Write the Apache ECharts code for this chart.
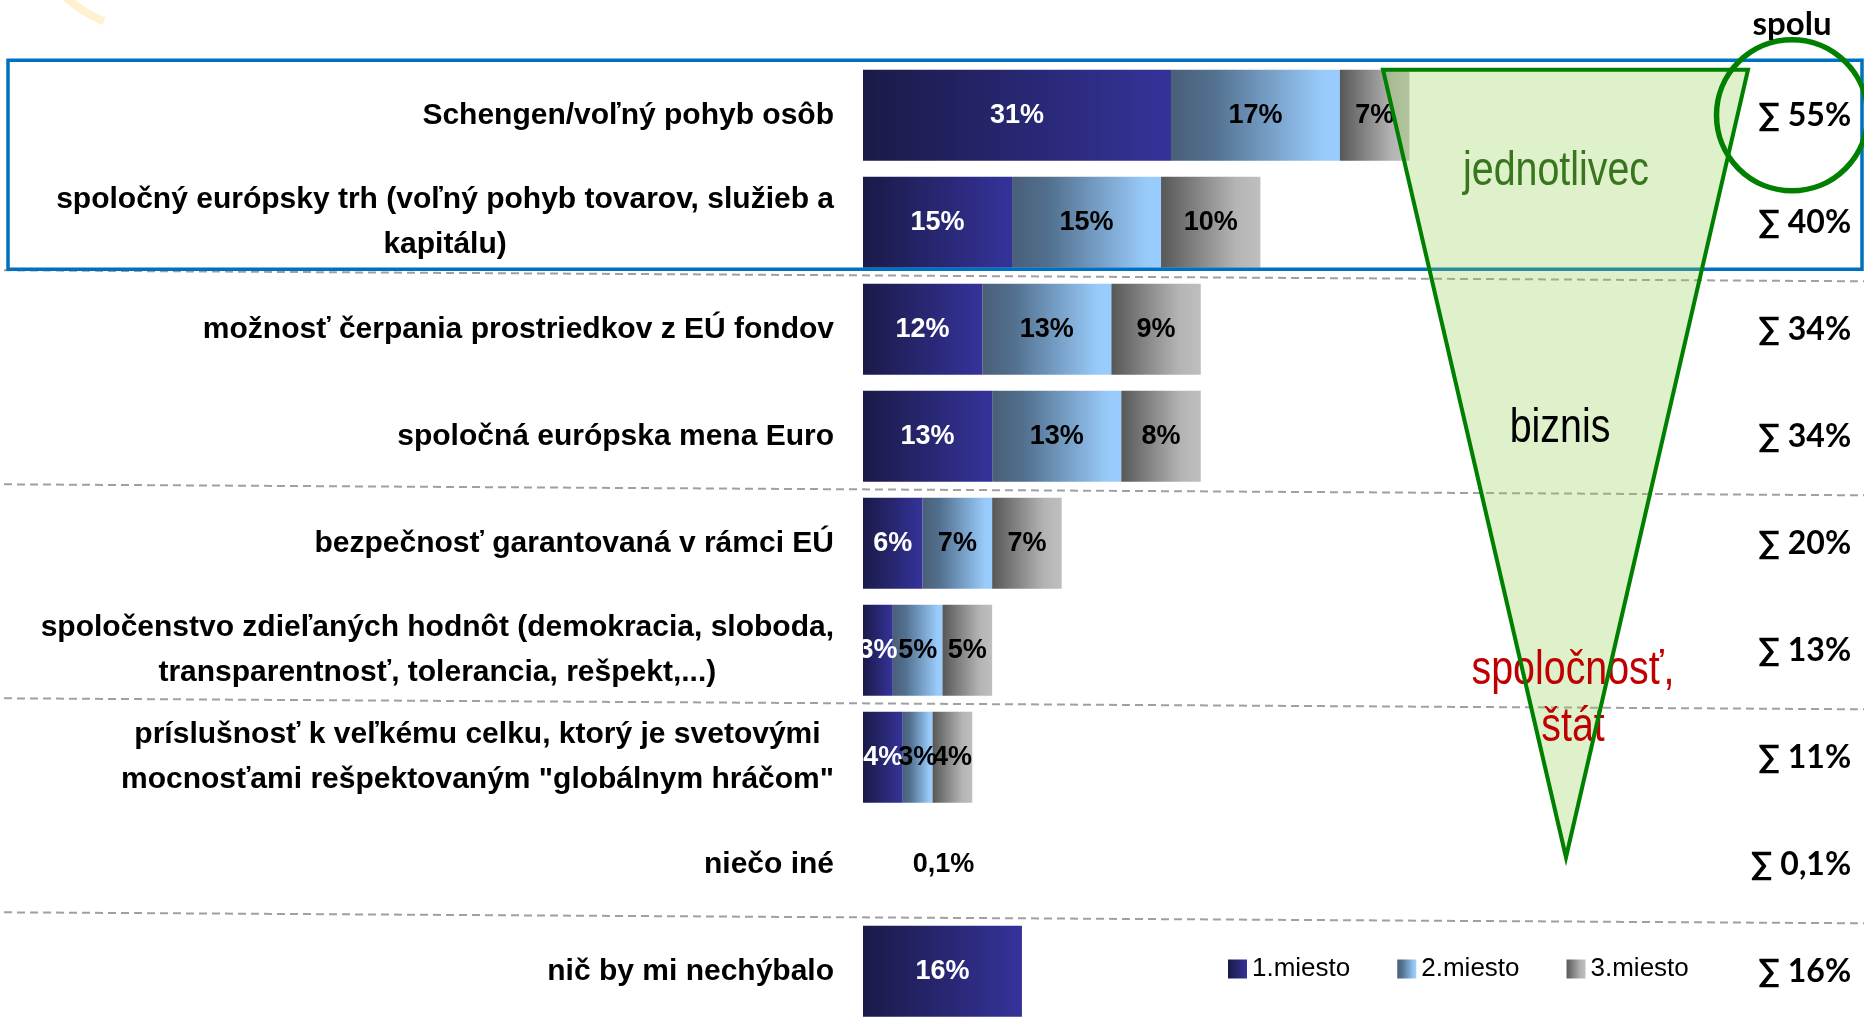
<!DOCTYPE html>
<html><head><meta charset="utf-8">
<script src="https://cdn.jsdelivr.net/npm/echarts@6/dist/echarts.min.js"></script>
<style>html,body{margin:0;padding:0;background:#fff;overflow:hidden}#c{width:1864px;height:1019px}</style>
</head><body><div id="c"></div>
<script>
const categories = [
  'Schengen/voľný pohyb osôb',
  'spoločný európsky trh (voľný pohyb tovarov, služieb a\nkapitálu)',
  'možnosť čerpania prostriedkov z EÚ fondov',
  'spoločná európska mena Euro',
  'bezpečnosť garantovaná v rámci EÚ',
  'spoločenstvo zdieľaných hodnôt (demokracia, sloboda,\ntransparentnosť, tolerancia, rešpekt,...)',
  'príslušnosť k veľkému celku, ktorý je svetovými\nmocnosťami rešpektovaným "globálnym hráčom"',
  'niečo iné',
  'nič by mi nechýbalo'
];
const seriesNames = ['1.miesto', '2.miesto', '3.miesto'];
const place1 = [31, 15, 12, 13, 6, 3, 4, 0.1, 16];
const place2 = [17, 15, 13, 13, 7, 5, 3, null, null];
const place3 = [7, 10, 9, 8, 7, 5, 4, null, null];
const sumTitle = 'spolu';
const zoneLabels = ['jednotlivec', 'biznis', 'spoločnosť,\nštát'];

const SANS = '"Liberation Sans Narrow","Liberation Sans",Arial,sans-serif';
const CAL = 'Lato,"Open Sans",sans-serif';
const fmt = v => String(v).replace('.', ',') + '%';
const sums = place1.map((v, i) => Math.round(((v || 0) + (place2[i] || 0) + (place3[i] || 0)) * 10) / 10);

const LG = echarts.graphic.LinearGradient;
const grads = [
  new LG(0, 0, 1, 0, [{offset: 0, color: '#1a1a48'}, {offset: 1, color: '#35339a'}]),
  new LG(0, 0, 1, 0, [{offset: 0, color: '#4a5f78'}, {offset: 0.25, color: '#52708f'}, {offset: 0.9, color: '#99cbfa'}, {offset: 1, color: '#99ccff'}]),
  new LG(0, 0, 1, 0, [{offset: 0, color: '#575757'}, {offset: 0.75, color: '#b4b4b4'}, {offset: 1, color: '#bfbfbf'}])
];
const labelColors = ['#ffffff', '#000000', '#000000'];

function makeSeries(idx, arr) {
  return {
    name: seriesNames[idx],
    type: 'bar',
    stack: 'total',
    barWidth: 91,
    itemStyle: {color: grads[idx]},
    label: {
      show: true, position: 'inside',
      color: labelColors[idx], fontFamily: SANS, fontWeight: 'bold', fontSize: 27,
      formatter: p => fmt(p.value)
    },
    emphasis: {disabled: true},
    data: arr.map(v => (v !== null && v < 1)
      ? {value: v, itemStyle: {color: 'rgba(0,0,0,0)'}, label: {color: '#000', offset: [80, 0]}}
      : v)
  };
}

const chart = echarts.init(document.getElementById('c'), null, {renderer: 'canvas'});
const option = {
  animation: false,
  backgroundColor: '#ffffff',
  grid: {left: 863, top: 61.8, width: 894.15, height: 963, containLabel: false, outerBoundsMode: 'none'},
  xAxis: {type: 'value', min: 0, max: 90, show: false},
  yAxis: [
    {
      type: 'category', data: categories, inverse: true,
      axisLine: {show: false}, axisTick: {show: false}, splitLine: {show: false},
      axisLabel: {
        margin: 29, align: 'right', hideOverlap: false,
        formatter: v => v.split('\n').map(l => '{c|' + l + '}').join('\n'),
        rich: {c: {align: 'center', fontFamily: SANS, fontWeight: 'bold', fontSize: 30, lineHeight: 45, color: '#000'}}
      }
    },
    {
      type: 'category', data: categories, inverse: true, position: 'right',
      axisLine: {show: false}, axisTick: {show: false}, splitLine: {show: false},
      axisLabel: {
        margin: 94, align: 'right', hideOverlap: false,
        fontFamily: CAL, fontWeight: 'bold', fontSize: 32, color: '#000',
        formatter: (v, i) => '∑ ' + fmt(sums[i])
      }
    }
  ],
  legend: {
    data: seriesNames, left: 1228, top: 956, padding: 0, itemGap: 47,
    icon: 'rect', itemWidth: 19, itemHeight: 19,
    itemStyle: {borderWidth: 0},
    textStyle: {fontFamily: SANS, fontSize: 26, color: '#000'},
    selectedMode: false
  },
  series: [makeSeries(0, place1), makeSeries(1, place2), makeSeries(2, place3)]
};
chart.setOption(option);

// decorations anchored on the category axis
const yc = i => chart.convertToPixel({yAxisIndex: 0}, i);
const graphics = [];
[[1, 2], [3, 4], [5, 6], [7, 8]].forEach(([a, b]) => {
  const yb = (yc(a) + yc(b)) / 2;
  graphics.push({type: 'line', z: 1, silent: true,
    shape: {x1: 4, y1: yb - 5.5, x2: 1864, y2: yb + 5.5},
    style: {stroke: '#a0a0a0', lineWidth: 2, lineDash: [8, 5]}});
});
const boxTop = yc(0) - 55, boxBot = yc(1) + 47;
graphics.push({type: 'rect', z: 5, silent: true,
  shape: {x: 8, y: boxTop, width: 1854, height: boxBot - boxTop},
  style: {fill: null, stroke: '#0070c0', lineWidth: 3.5}});
const triPts = [[1383, yc(0) - 45.5], [1748, yc(0) - 45.5], [1566, yc(7) - 7]];
graphics.push({type: 'polygon', z: 20, silent: true, shape: {points: triPts},
  style: {fill: 'rgba(146,208,80,0.3)', stroke: null}});
const zoneText = (txt, x, y, color) => ({type: 'text', z: 21, silent: true, x: x, y: y, scaleX: 0.82,
  style: {text: txt, fontFamily: SANS, fontSize: 48, lineHeight: 57, fill: color, align: 'center', verticalAlign: 'middle'}});
graphics.push(zoneText(zoneLabels[0], 1556, 172, '#38761d'));
graphics.push(zoneText(zoneLabels[1], 1560, 429, '#000000'));
graphics.push(zoneText(zoneLabels[2], 1573, 699, '#c00000'));
graphics.push({type: 'polygon', z: 22, silent: true, shape: {points: triPts},
  style: {fill: null, stroke: '#008000', lineWidth: 4, lineJoin: 'miter'}});
graphics.push({type: 'circle', z: 22, silent: true, shape: {cx: 1792, cy: yc(0), r: 75.5},
  style: {fill: null, stroke: '#008000', lineWidth: 5.5}});
graphics.push({type: 'text', z: 23, silent: true, x: 1792, y: 24,
  style: {text: sumTitle, fontFamily: CAL, fontWeight: 'bold', fontSize: 33, fill: '#000', align: 'center', verticalAlign: 'middle'}});
graphics.push({type: 'arc', z: 1, silent: true, shape: {cx: 150, cy: -95, r: 125, startAngle: Math.PI * 0.62, endAngle: Math.PI * 0.9},
  style: {stroke: 'rgba(250,215,120,0.35)', lineWidth: 8, fill: null}});
chart.setOption({graphic: {elements: graphics}});
</script>
</body></html>
